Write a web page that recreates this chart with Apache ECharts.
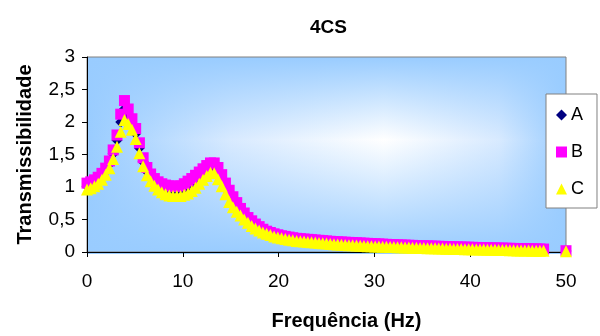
<!DOCTYPE html>
<html>
<head>
<meta charset="utf-8">
<script src="https://cdn.jsdelivr.net/npm/echarts@6/dist/echarts.min.js"></script>
<style>html,body{margin:0;padding:0;background:#fff}#c{width:600px;height:336px}</style>
</head>
<body>
<div id="c"></div>
<script>
const chartTitle = '4CS';
const xName = 'Frequência (Hz)';
const yName = 'Transmissibilidade';
const seriesNames = ['A', 'B', 'C'];
const yTicks = [0, 0.5, 1, 1.5, 2, 2.5, 3];
const xTicks = [0, 10, 20, 30, 40, 50];

const freq = [0,0.39,0.78,1.17,1.56,1.95,2.34,2.73,3.13,3.52,3.91,4.30,4.69,5.08,5.47,5.86,6.25,6.64,7.03,7.42,
7.81,8.20,8.59,8.98,9.38,9.77,10.16,10.55,10.94,11.33,11.72,12.11,12.50,12.89,13.28,13.67,14.06,14.45,14.84,15.23,
15.63,16.02,16.41,16.80,17.19,17.58,17.97,18.36,18.75,19.14,19.53,19.92,20.31,20.70,21.09,21.48,21.88,22.27,22.66,23.05,
23.44,23.83,24.22,24.61,25.00,25.39,25.78,26.17,26.56,26.95,27.34,27.73,28.13,28.52,28.91,29.30,29.69,30.08,30.47,30.86,
31.25,31.64,32.03,32.42,32.81,33.20,33.59,33.98,34.38,34.77,35.16,35.55,35.94,36.33,36.72,37.11,37.50,37.89,38.28,38.67,
39.06,39.45,39.84,40.23,40.63,41.02,41.41,41.80,42.19,42.58,42.97,43.36,43.75,44.14,44.53,44.92,45.31,45.70,46.09,46.48,
46.88,47.27,47.66,50];

const valA = [1.01,1.03,1.06,1.10,1.16,1.24,1.35,1.51,1.72,2.00,2.20,2.10,1.97,1.82,1.60,1.39,1.24,1.15,1.08,1.02,
0.99,0.96,0.95,0.94,0.94,0.94,0.97,1.00,1.04,1.09,1.14,1.20,1.25,1.30,1.30,1.22,1.11,0.98,0.87,0.78,
0.70,0.62,0.55,0.49,0.44,0.40,0.36,0.33,0.30,0.28,0.26,0.245,0.23,0.22,0.21,0.20,0.19,0.185,0.18,0.175,
0.17,0.165,0.16,0.155,0.15,0.145,0.14,0.136,0.132,0.128,0.125,0.122,0.119,0.116,0.113,0.11,0.108,0.105,0.103,0.10,
0.098,0.096,0.094,0.092,0.09,0.088,0.086,0.084,0.082,0.08,0.078,0.076,0.074,0.073,0.071,0.07,0.068,0.066,0.064,0.063,
0.061,0.06,0.058,0.057,0.055,0.054,0.052,0.051,0.049,0.048,0.046,0.045,0.044,0.042,0.041,0.04,0.039,0.037,0.036,0.035,
0.034,0.033,0.032,0.015];

const valB = [1.06,1.08,1.11,1.15,1.21,1.29,1.40,1.57,1.80,2.12,2.33,2.20,2.05,1.90,1.68,1.45,1.30,1.20,1.13,1.08,
1.05,1.03,1.02,1.01,1.01,1.02,1.05,1.09,1.13,1.18,1.23,1.28,1.33,1.37,1.37,1.30,1.19,1.06,0.95,0.85,
0.76,0.67,0.60,0.53,0.48,0.43,0.39,0.35,0.32,0.30,0.28,0.265,0.25,0.24,0.23,0.22,0.21,0.205,0.20,0.195,
0.19,0.185,0.18,0.175,0.17,0.165,0.16,0.157,0.154,0.151,0.148,0.145,0.142,0.139,0.136,0.133,0.13,0.127,0.124,0.121,
0.118,0.115,0.112,0.11,0.108,0.106,0.104,0.102,0.10,0.098,0.096,0.094,0.092,0.09,0.088,0.086,0.084,0.082,0.08,0.078,
0.077,0.075,0.074,0.072,0.07,0.069,0.067,0.066,0.064,0.063,0.061,0.06,0.058,0.057,0.055,0.054,0.053,0.051,0.05,0.049,
0.047,0.046,0.045,0.02];

const valC = [0.96,0.98,1.01,1.05,1.11,1.19,1.29,1.43,1.62,1.85,2.03,1.97,1.88,1.74,1.52,1.32,1.18,1.09,1.02,0.96,
0.92,0.89,0.87,0.86,0.86,0.86,0.88,0.90,0.94,0.99,1.05,1.11,1.17,1.22,1.21,1.12,1.01,0.89,0.77,0.69,
0.62,0.56,0.50,0.45,0.40,0.36,0.33,0.30,0.28,0.26,0.24,0.225,0.21,0.20,0.19,0.18,0.17,0.165,0.16,0.155,
0.15,0.145,0.14,0.135,0.13,0.125,0.12,0.116,0.112,0.108,0.105,0.102,0.099,0.096,0.093,0.09,0.088,0.086,0.084,0.082,
0.08,0.078,0.076,0.074,0.072,0.07,0.068,0.066,0.064,0.062,0.06,0.058,0.057,0.056,0.054,0.053,0.051,0.05,0.048,0.047,
0.045,0.044,0.042,0.041,0.04,0.038,0.037,0.036,0.034,0.033,0.032,0.03,0.029,0.028,0.027,0.025,0.024,0.023,0.022,0.021,
0.02,0.019,0.018,0.01];

const pairs = (vals) => freq.map((f, i) => [f, vals[i]]);
const FONT = 'Arial, "Liberation Sans", sans-serif';
const G = {left: 87, top: 57, width: 479, height: 197};
const chart = echarts.init(document.getElementById('c'), null, {renderer: 'canvas'});
chart.setOption({
  animation: false,
  backgroundColor: '#ffffff',
  title: {
    text: chartTitle, left: 305, top: 13,
    textStyle: {fontFamily: FONT, fontSize: 19, fontWeight: 'bold', color: '#000'}
  },
  graphic: [
    {type: 'rect', z: -10, silent: true,
     shape: {x: G.left, y: G.top, width: G.width, height: G.height},
     style: {fill: new echarts.graphic.LinearGradient(0, 0, 1, 0, [
       {offset: 0, color: '#99CCFF'}, {offset: 0.3, color: '#D8EAFF'}, {offset: 0.62, color: '#FFFFFF'},
       {offset: 0.86, color: '#D8EAFF'}, {offset: 1, color: '#99CCFF'}])}},
    {type: 'rect', z: -9, silent: true,
     shape: {x: G.left, y: G.top, width: G.width, height: G.height},
     style: {fill: new echarts.graphic.LinearGradient(0, 0, 0, 1, [
       {offset: 0, color: 'rgba(153,204,255,1)'}, {offset: 0.42, color: 'rgba(153,204,255,0)'}, {offset: 1, color: 'rgba(153,204,255,1)'}])}}
  ],
  grid: {left: G.left, top: G.top, width: G.width, height: G.height, show: true,
         borderColor: '#808080', borderWidth: 1, backgroundColor: 'transparent'},
  legend: {
    orient: 'vertical', left: 546, top: 94,
    backgroundColor: '#ffffff', borderColor: '#808080', borderWidth: 1,
    padding: [12, 13, 10, 10], itemGap: 19, itemWidth: 11, itemHeight: 11,
    textStyle: {fontFamily: FONT, fontSize: 18, color: '#000', padding: [0, 0, 0, -1]},
    data: [
      {name: seriesNames[0], icon: 'diamond'},
      {name: seriesNames[1], icon: 'rect'},
      {name: seriesNames[2], icon: 'triangle'}
    ]
  },
  xAxis: {
    type: 'value', min: xTicks[0], max: xTicks[xTicks.length - 1], interval: 10,
    name: xName, nameLocation: 'middle', nameGap: 59,
    nameTextStyle: {fontFamily: FONT, fontSize: 20, fontWeight: 'bold', color: '#000', padding: [0, 0, 0, 40]},
    axisLine: {show: true, onZero: false, lineStyle: {color: '#000', width: 1}},
    axisTick: {show: true, inside: false, length: 5, lineStyle: {color: '#000'}},
    axisLabel: {fontFamily: FONT, fontSize: 19, color: '#000', margin: 20},
    splitLine: {show: false}
  },
  yAxis: {
    type: 'value', min: yTicks[0], max: yTicks[yTicks.length - 1], interval: 0.5,
    name: yName, nameLocation: 'middle', nameGap: 52, nameRotate: 90,
    nameTextStyle: {fontFamily: FONT, fontSize: 20, fontWeight: 'bold', color: '#000'},
    axisLine: {show: true, lineStyle: {color: '#000', width: 1}},
    axisTick: {show: true, inside: false, length: 5, lineStyle: {color: '#000'}},
    axisLabel: {fontFamily: FONT, fontSize: 19, color: '#000', margin: 12,
                formatter: (v) => String(v).replace('.', ',')},
    splitLine: {show: false}
  },
  series: [
    {name: seriesNames[0], type: 'scatter', clip: false, symbol: 'diamond', symbolSize: 11,
     itemStyle: {color: '#000080', opacity: 1}, data: pairs(valA), z: 3},
    {name: seriesNames[1], type: 'scatter', clip: false, symbol: 'rect', symbolSize: 11,
     itemStyle: {color: '#FF00FF', opacity: 1}, data: pairs(valB), z: 4},
    {name: seriesNames[2], type: 'scatter', clip: false, symbol: 'triangle', symbolSize: 12,
     itemStyle: {color: '#FFFF00', opacity: 1}, data: pairs(valC), z: 5}
  ]
});
</script>
</body>
</html>
